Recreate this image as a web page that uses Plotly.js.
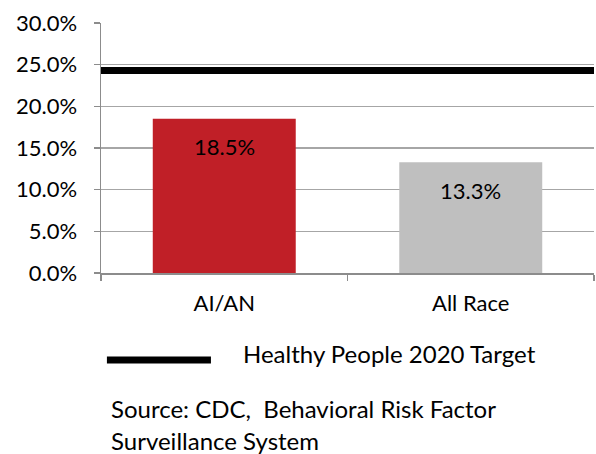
<!DOCTYPE html>
<html><head><meta charset="utf-8">
<script src="https://cdn.plot.ly/plotly-3.0.1.min.js"></script>
<style>html,body{margin:0;padding:0;background:#fff}#chart{width:596px;height:454px}</style>
</head><body><div id="chart"></div>
<script>
var categories = ["AI/AN", "All Race"];
var values = [18.5, 13.3];
var barColors = ["#C01F27", "#BFBFBF"];
var labels = ["18.5%", "13.3%"];
var targetValue = 24.3;
var targetLabel = "Healthy People 2020 Target";
var sourceLines = ["Source: CDC, &nbsp;Behavioral Risk Factor", "Surveillance System"];
var yTickVals = [0, 5, 10, 15, 20, 25, 30];
var yTickText = ["0.0%", "5.0%", "10.0%", "15.0%", "20.0%", "25.0%", "30.0%"];

var FONT = "Lato, 'Open Sans', sans-serif";
var FS = 22;

var bar = {
  type: "bar", x: categories, y: values,
  marker: {color: barColors, line: {width: 0}},
  width: 0.58, hoverinfo: "none", showlegend: false
};

var annotations = categories.map(function(c, i){
  return {x: c, y: values[i], xref: "x", yref: "y", text: labels[i], showarrow: false,
    yanchor: "middle", yshift: -28, font: {family: FONT, size: FS, color: "#000"}};
});
annotations.push({xref: "paper", yref: "paper", x: 0.284, y: -0.32, xanchor: "left", yanchor: "middle",
  text: targetLabel, showarrow: false, font: {family: FONT, size: 24, color: "#000"}});
var sourceY = [-0.54, -0.668];
sourceLines.forEach(function(t, i){
  annotations.push({xref: "paper", yref: "paper", x: 0.016, y: sourceY[i], xanchor: "left", yanchor: "middle",
    text: t, showarrow: false, font: {family: FONT, size: 24, color: "#000"}});
});

var layout = {
  width: 596, height: 454,
  margin: {l: 101, r: 2, t: 23, b: 181},
  paper_bgcolor: "#fff", plot_bgcolor: "#fff",
  font: {family: FONT, size: FS, color: "#000"},
  bargap: 0.42,
  xaxis: {type: "category", showline: true, linecolor: "#8C8C8C", linewidth: 1.5,
    ticks: "outside", tickson: "boundaries", ticklen: 6, tickcolor: "#8C8C8C", tickwidth: 1.5,
    showgrid: false, ticklabelstandoff: 10, tickfont: {family: FONT, size: FS, color: "#000"}},
  yaxis: {range: [0, 30], tickvals: yTickVals, ticktext: yTickText, showline: true,
    linecolor: "#8C8C8C", linewidth: 1.5, ticks: "outside", ticklen: 6, tickcolor: "#8C8C8C", tickwidth: 1.5,
    showgrid: true, gridcolor: "#A6A6A6", gridwidth: 1.5, zeroline: false,
    ticklabelstandoff: 12, tickfont: {family: FONT, size: FS, color: "#000"}},
  shapes: [
    {type: "line", xref: "paper", yref: "y", x0: 0, x1: 1, y0: targetValue, y1: targetValue,
      line: {color: "#000", width: 7}},
    {type: "line", xref: "paper", yref: "paper", x0: 0.012, x1: 0.223, y0: -0.348, y1: -0.348,
      line: {color: "#000", width: 7}}
  ],
  annotations: annotations,
  showlegend: false
};

Plotly.newPlot("chart", [bar], layout, {displayModeBar: false, staticPlot: true});
</script></body></html>
